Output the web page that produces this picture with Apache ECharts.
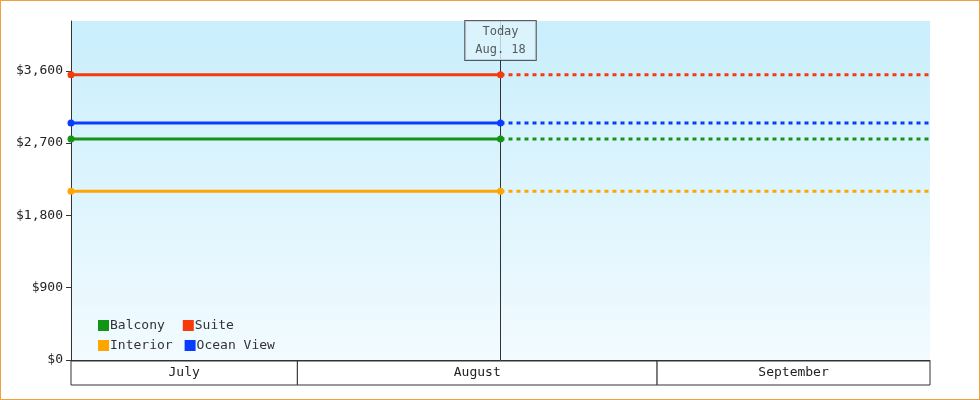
<!doctype html>
<html>
<head>
<meta charset="utf-8">
<style>html,body{margin:0;padding:0;background:#fff}#main{width:980px;height:400px;box-sizing:border-box;border:1px solid #f0a040}</style>
</head>
<body>
<div id="main"></div>
<script src="https://cdn.jsdelivr.net/npm/echarts@6/dist/echarts.min.js"></script>
<script>
// x units are days since July 1
var todayDay = 48, endDay = 96;
var seriesNames = ['Balcony', 'Suite', 'Interior', 'Ocean View'];
var seriesValues = [2750, 3550, 2100, 2950];
var seriesColors = ['#149414', '#f53a0c', '#ffa500', '#0a3cff'];
var monthNames = ['July', 'August', 'September'];
var monthBounds = [0, 25.3, 65.5, 96];
var yTicks = [0, 900, 1800, 2700, 3600];

var chart = echarts.init(document.getElementById('main'));
var font = 'DejaVu Sans Mono';
var series = [];
seriesNames.forEach(function (n, i) {
    series.push({
        name: n, type: 'line', data: [[0, seriesValues[i]], [todayDay, seriesValues[i]]],
        symbol: 'circle', symbolSize: 7, color: seriesColors[i],
        lineStyle: { width: 3 }, z: 3
    });
    series.push({
        name: n, type: 'line', data: [[todayDay, seriesValues[i]], [endDay, seriesValues[i]]],
        showSymbol: false, color: seriesColors[i],
        lineStyle: { width: 3, type: [4, 4] }, z: 2
    });
});
series.push({
    type: 'line', data: [[todayDay, 0], [todayDay, 4220]], showSymbol: false,
    lineStyle: { color: '#333', width: 1 }, z: 1, silent: true
});
series.push({
    type: 'scatter', data: [[todayDay, 4220]], symbolSize: 0, z: 5,
    label: { show: true, position: 'bottom', distance: 0, formatter: 'Today\nAug. 18', fontFamily: font, fontSize: 12,
        color: '#333', lineHeight: 18, backgroundColor: '#dff4fc', borderColor: '#333', borderWidth: 1, padding: [2, 10, 1, 10] }
});
series.push({
    type: 'custom', xAxisIndex: 1, yAxisIndex: 1, data: monthNames.map(function (m, i) { return [monthBounds[i], monthBounds[i + 1], m]; }),
    renderItem: function (p, api) {
        var a = api.coord([api.value(0), 0]), b = api.coord([api.value(1), 1]);
        var s = api.coord([api.value(0), 1]);
        return { type: 'group', children: [
            { type: 'rect', shape: { x: a[0], y: b[1], width: b[0] - a[0], height: a[1] - b[1] },
              style: { fill: '#fff', stroke: '#333', lineWidth: 1 } },
            { type: 'text', style: { x: (a[0] + b[0]) / 2, y: (a[1] + b[1]) / 2, text: api.value(2), align: 'center', verticalAlign: 'middle',
              font: '13px ' + font, fill: '#222' } }
        ] };
    }
});

chart.setOption({
    animation: false,
    textStyle: { fontFamily: font },
    grid: [
        { left: 70, right: 49, top: 20, bottom: 39, show: true, borderWidth: 0,
          backgroundColor: new echarts.graphic.LinearGradient(0, 0, 0, 1, [{ offset: 0, color: '#c9eefc' }, { offset: 1, color: '#f2fbff' }]) },
        { left: 70, right: 49, top: 360, height: 24 }
    ],
    legend: [
        { data: ['Balcony', 'Suite'], left: 92, top: 313, itemWidth: 11, itemHeight: 11, itemGap: 18, icon: 'rect',
          textStyle: { fontFamily: font, fontSize: 13, color: '#333', padding: [0, 0, 0, -4] } },
        { data: ['Interior', 'Ocean View'], left: 92, top: 333, itemWidth: 11, itemHeight: 11, itemGap: 12, icon: 'rect',
          textStyle: { fontFamily: font, fontSize: 13, color: '#333', padding: [0, 0, 0, -4] } }
    ],
    xAxis: [
        { type: 'value', min: 0, max: endDay, gridIndex: 0, axisLabel: { show: false }, axisTick: { show: false },
          splitLine: { show: false }, axisLine: { lineStyle: { color: '#333' } } },
        { type: 'value', min: 0, max: endDay, gridIndex: 1, show: false }
    ],
    yAxis: [
        { type: 'value', min: 0, max: 4220, interval: 900, gridIndex: 0, splitLine: { show: false },
          axisLine: { show: true, lineStyle: { color: '#333' } }, axisTick: { show: true, length: 5, lineStyle: { color: '#333' } },
          axisLabel: { showMaxLabel: false, fontFamily: font, fontSize: 13, color: '#222', margin: 8,
            formatter: function (v) { return yTicks.indexOf(v) < 0 ? '' : '$' + v.toLocaleString('en-US'); } } },
        { type: 'value', min: 0, max: 1, gridIndex: 1, show: false }
    ],
    series: series
});
</script>
</body>
</html>
